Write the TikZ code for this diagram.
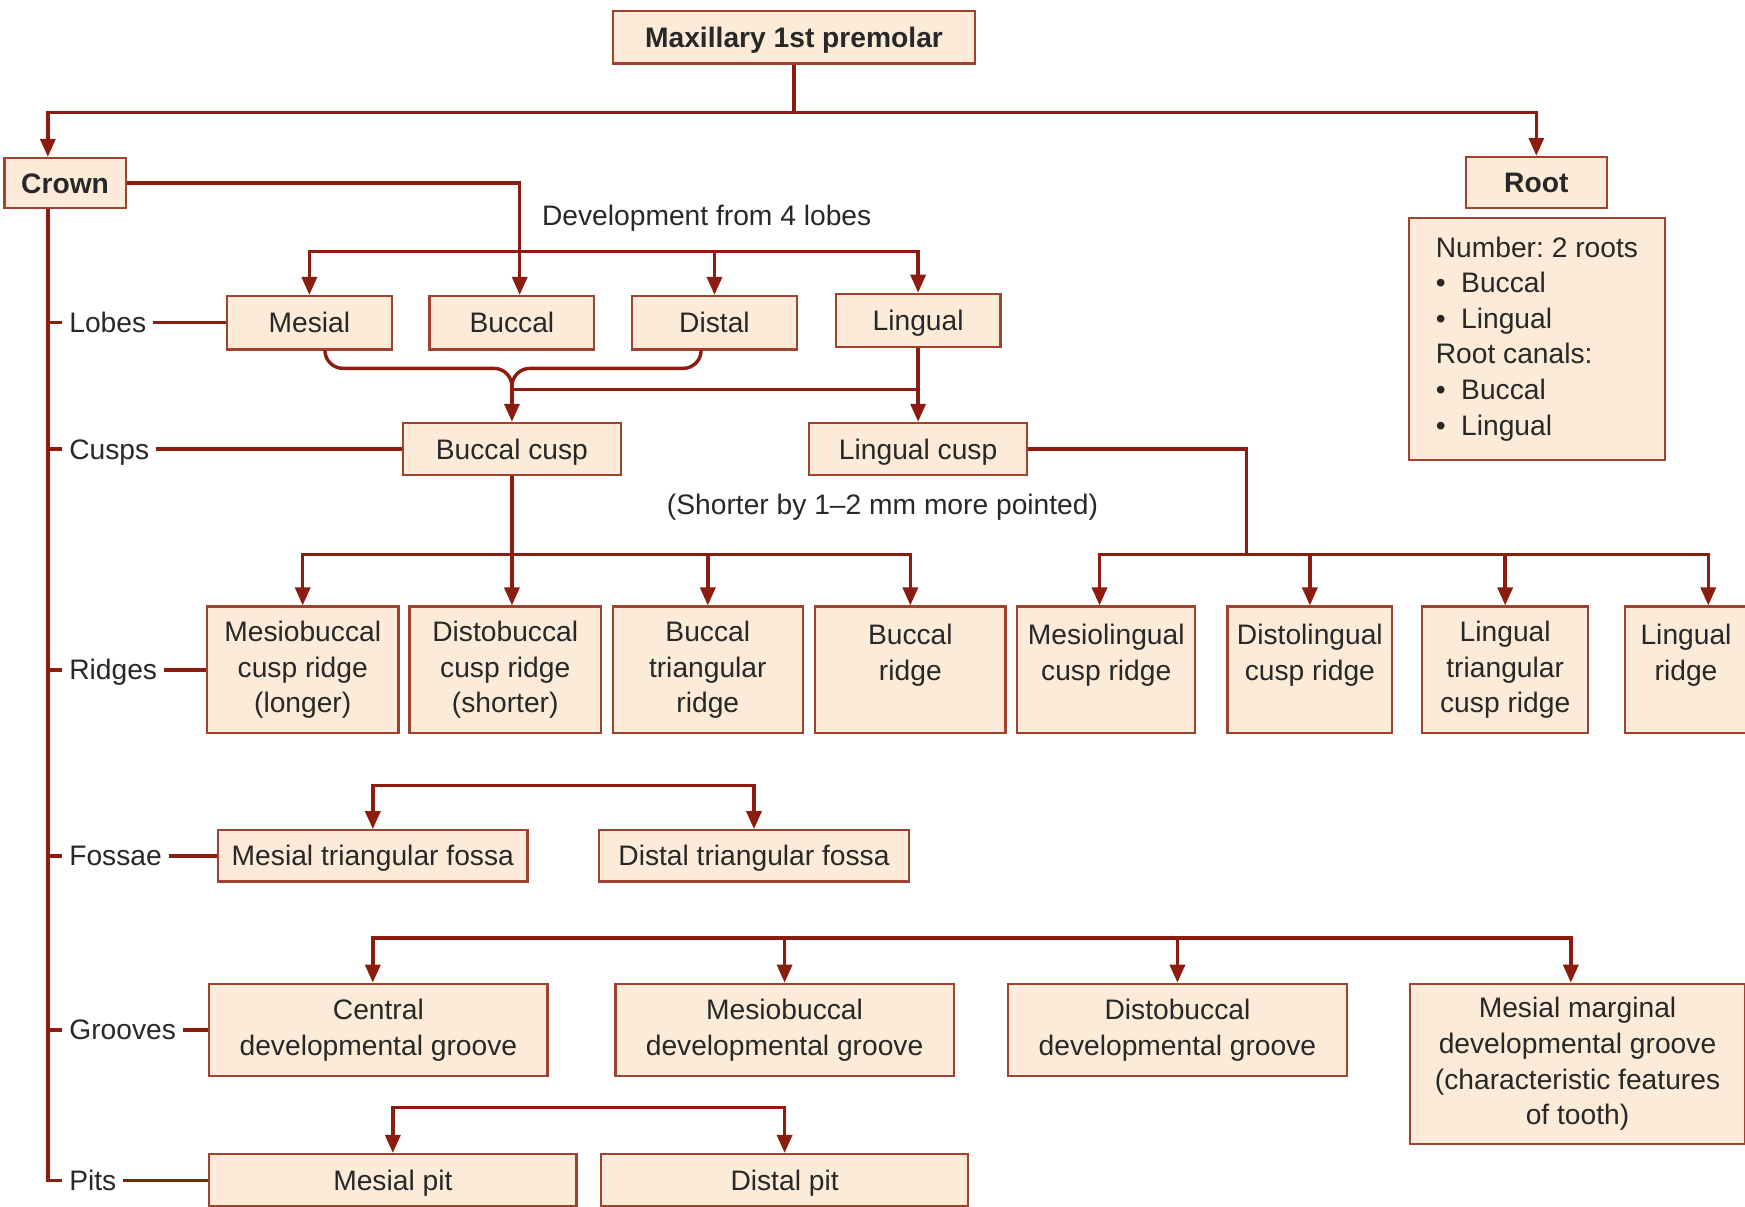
\documentclass[tikz,border=0pt]{standalone}
\usepackage{fontspec}
\setmainfont{Liberation Sans}
\usetikzlibrary{arrows.meta,calc}
\definecolor{lnc}{RGB}{140,28,16}
\definecolor{bdc}{RGB}{160,66,46}
\definecolor{fillc}{RGB}{252,235,216}
\definecolor{txc}{RGB}{40,40,40}
\newcommand\myfs{\fontsize{14.1pt}{17.8pt}\selectfont}
\frenchspacing
\begin{document}
\begin{tikzpicture}[x=0.5564pt,y=-0.5564pt,
  ln/.style={draw=lnc, line width=1.7pt, line join=miter},
  arr/.style={ln, -{Triangle[length=9pt,width=7.5pt]}},
  darr/.style={ln, {Triangle[length=9pt,width=7.5pt]}-{Triangle[length=9pt,width=7.5pt]}},
  box/.style={draw=bdc, fill=fillc, line width=1.1pt, text=txc, inner sep=0pt, align=center, font=\myfs},
  bx/.style 2 args={minimum width=#1*0.5564pt, minimum height=#2*0.5564pt},
  one/.style={text height=13pt, text depth=3pt},
  lbl/.style={text=txc, inner xsep=3.3pt, inner ysep=0pt, anchor=west, font=\myfs, text height=13pt, text depth=3pt},
  txt/.style={text=txc, inner sep=0pt, font=\myfs}]
\fill[white] (0,0) rectangle (1568,1084);
\useasboundingbox (0,0) rectangle (1568,1084);

% helper coordinates
\coordinate (T) at (43,0);
\coordinate (yA) at (0,101);
\coordinate (yB) at (0,226);
\coordinate (yC) at (0,331);
\coordinate (yD) at (0,350);
\coordinate (yE) at (0,498);
\coordinate (xF) at (1120,0);
\coordinate (yG) at (0,706);
\coordinate (yH) at (0,843);
\coordinate (yI) at (0,995);

% top level
\node[box,bx={325}{47},one,font=\myfs\bfseries] (title) at (713.5,33.5) {Maxillary 1st premolar};
\node[box,bx={109}{45},one,font=\myfs\bfseries] (crown) at (58.5,164.5) {Crown};
\node[box,bx={127}{46},one,font=\myfs\bfseries] (root) at (1380.5,164) {Root};
\node[box,bx={230}{217},align=left] (rootinfo) at (1381,304.5)
  {Number:\ 2 roots\\ \textbullet\hspace{0.55em}Buccal\\ \textbullet\hspace{0.55em}Lingual\\ Root canals:\\ \textbullet\hspace{0.55em}Buccal\\ \textbullet\hspace{0.55em}Lingual};

% lobes
\node[txt] (dev) at (635,196) {Development from 4 lobes};
\node[box,bx={148}{48},one] (mesial) at (278,290) {Mesial};
\node[box,bx={148}{48},one] (buccal) at (460,290) {Buccal};
\node[box,bx={148}{48},one] (distal) at (642,290) {Distal};
\node[box,bx={148}{48},one] (lingual) at (825,288) {Lingual};

% cusps
\node[box,bx={196}{47},one] (bcusp) at (460,403.5) {Buccal cusp};
\node[box,bx={196}{47},one] (lcusp) at (825,403.5) {Lingual cusp};
\node[txt] (shorter) at (793,456) {(Shorter by 1\textendash 2 mm more pointed)};

% ridges
\node[box,bx={172}{114}] (mb) at (272,602) {Mesiobuccal\\cusp ridge\\(longer)};
\node[box,bx={172}{114}] (db) at (454,602) {Distobuccal\\cusp ridge\\(shorter)};
\node[box,bx={171}{114}] (bt) at (636,602) {Buccal\\triangular\\ridge};
\node[box,bx={171}{114}] (br) at (818,602) {Buccal\\ridge\\\mbox{}};
\node[box,bx={160}{114}] (ml) at (994,602) {Mesiolingual\\cusp ridge\\\mbox{}};
\node[box,bx={148}{114}] (dl) at (1177,602) {Distolingual\\cusp ridge\\\mbox{}};
\node[box,bx={149}{114}] (lt) at (1352.5,602) {Lingual\\triangular\\cusp ridge};
\node[box,bx={110}{114}] (lr) at (1515,602) {Lingual\\ridge\\\mbox{}};
\coordinate (mlA) at ($(ml.north)+(-6,0)$);
\coordinate (lrA) at ($(lr.north)+(20,0)$);

% fossae
\node[box,bx={278}{46},one] (mtf) at (335,769) {Mesial triangular fossa};
\node[box,bx={279}{46},one] (dtf) at (677.5,769) {Distal triangular fossa};

% grooves
\node[box,bx={304}{83}] (cdg) at (340,925.5) {Central\\developmental groove};
\node[box,bx={304}{83}] (mbdg) at (705,925.5) {Mesiobuccal\\developmental groove};
\node[box,bx={304}{83}] (dbdg) at (1058,925.5) {Distobuccal\\developmental groove};
\node[box,bx={301}{144}] (mmdg) at (1417.5,956) {Mesial marginal\\developmental groove\\(characteristic features\\of tooth)};
\coordinate (cdgA) at ($(cdg.north)+(-5,0)$);
\coordinate (mmA) at ($(mmdg.north)+(-6,0)$);

% pits
\node[box,bx={330}{47},one] (mp) at (353,1060.5) {Mesial pit};
\node[box,bx={330}{47},one] (dp) at (705,1060.5) {Distal pit};

% row labels
\node[lbl] (llobes) at (56,290) {Lobes};
\node[lbl] (lcusps) at (56,403.5) {Cusps};
\node[lbl] (lridges) at (56,602) {Ridges};
\node[lbl] (lfossae) at (56,769) {Fossae};
\node[lbl] (lgrooves) at (56,925.5) {Grooves};
\node[lbl] (lpits) at (56,1060.5) {Pits};

% connectors: top
\draw[ln] (title.south) -- (title.south |- yA);
\draw[darr] (crown.north -| T) |- (root.north |- yA) -- (root.north);

% crown trunk and ticks
\draw[ln] (crown.south -| T) |- (lpits.west);
\foreach \l in {llobes,lcusps,lridges,lfossae,lgrooves}
  \draw[ln] (T |- \l.west) -- (\l.west);
\draw[ln] (llobes.east) -- (llobes.east -| mesial.west);
\draw[ln] (lcusps.east) -- (lcusps.east -| bcusp.west);
\draw[ln] (lridges.east) -- (lridges.east -| mb.west);
\draw[ln] (lfossae.east) -- (lfossae.east -| mtf.west);
\draw[ln] (lgrooves.east) -- (lgrooves.east -| cdg.west);
\draw[ln] (lpits.east) -- (lpits.east -| mp.west);

% crown to lobes
\draw[arr] (crown.east) -| ($(buccal.north)+(7,0)$);
\draw[darr] (mesial.north) |- (lingual.north |- yB) -- (lingual.north);
\draw[arr] (distal.north |- yB) -- (distal.north);

% lobes to cusps (brace)
\draw[ln, rounded corners=9pt] ($(mesial.south)+(14,0)$) |- (bcusp.north |- yC) -- (bcusp.north |- yD);
\draw[ln, rounded corners=9pt] ($(distal.south)+(-12,0)$) |- (bcusp.north |- yC) -- (bcusp.north |- yD);
\draw[arr] (bcusp.north |- yD) -- (bcusp.north);
\draw[ln] (bcusp.north |- yD) -- (lingual.south |- yD);
\draw[arr] (lingual.south) -- (lcusp.north);

% cusps to ridges
\draw[ln] (bcusp.south) -- (bcusp.south |- yE);
\draw[darr] (mb.north) |- (br.north |- yE) -- (br.north);
\draw[arr] (bcusp.south |- yE) -- (bcusp.south |- db.north);
\draw[arr] (bt.north |- yE) -- (bt.north);
\draw[ln] (lcusp.east) -| (xF |- yE);
\draw[darr] (mlA) |- (lrA |- yE) -- (lrA);
\draw[arr] (dl.north |- yE) -- (dl.north);
\draw[arr] (lt.north |- yE) -- (lt.north);

% fossae, grooves, pits brackets
\draw[darr] (mtf.north) |- (dtf.north |- yG) -- (dtf.north);
\draw[darr] (cdgA) |- (mmA |- yH) -- (mmA);
\draw[arr] (mbdg.north |- yH) -- (mbdg.north);
\draw[arr] (dbdg.north |- yH) -- (dbdg.north);
\draw[darr] (mp.north) |- (dp.north |- yI) -- (dp.north);
\end{tikzpicture}
\end{document}
